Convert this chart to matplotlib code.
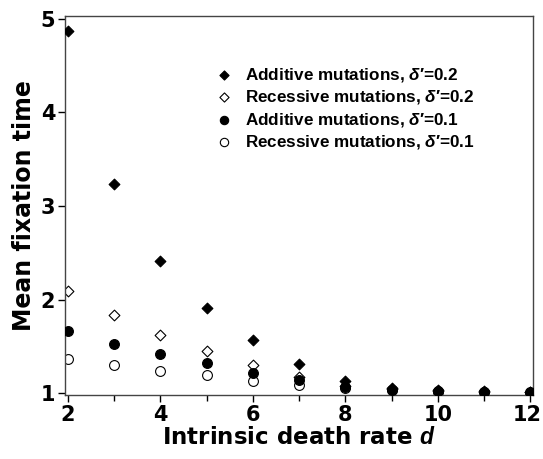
import matplotlib
matplotlib.use("Agg")
import matplotlib.pyplot as plt
import matplotlib.transforms as mtransforms

d = [2, 3, 4, 5, 6, 7, 8, 9, 10, 11, 12]
add_02 = [4.87, 3.23, 2.41, 1.91, 1.57, 1.31, 1.13, 1.05, 1.03, 1.02, 1.01]
rec_02 = [2.09, 1.83, 1.62, 1.45, 1.30, 1.17, 1.08, 1.04, 1.02, 1.01, 1.01]
add_01 = [1.66, 1.53, 1.42, 1.32, 1.22, 1.14, 1.07, 1.03, 1.02, 1.01, 1.01]
rec_01 = [1.36, 1.30, 1.24, 1.19, 1.13, 1.09, 1.05, 1.03, 1.01, 1.01, 1.00]
labels = [r"Additive mutations, $\mathbfit{\delta}$′=0.2",
          r"Recessive mutations, $\mathbfit{\delta}$′=0.2",
          r"Additive mutations, $\mathbfit{\delta}$′=0.1",
          r"Recessive mutations, $\mathbfit{\delta}$′=0.1"]
xticks = [2, 4, 6, 8, 10, 12]
yticks = [1, 2, 3, 4, 5]

plt.rcParams['mathtext.fontset'] = 'custom'
plt.rcParams['mathtext.bfit'] = 'Liberation Sans:bold:italic'
plt.rcParams['mathtext.rm'] = 'Liberation Sans:bold'

fig = plt.figure(figsize=(5.43, 4.59), dpi=100)
ax = fig.add_axes([65/543, 1-395/459, (533-65)/543, (395-16)/459])

ax.scatter(d, add_02, marker='D', s=30, facecolor='black', edgecolor='black', linewidth=0.8, zorder=3, label=labels[0])
ax.scatter(d, rec_02, marker='D', s=30, facecolor='white', edgecolor='black', linewidth=0.8, zorder=2, label=labels[1])
ax.scatter(d, add_01, marker='o', s=50, facecolor='black', edgecolor='black', linewidth=0.8, zorder=4, label=labels[2])
ax.scatter(d, rec_01, marker='o', s=50, facecolor='white', edgecolor='black', linewidth=0.8, zorder=1, label=labels[3])

ax.set_xlim(1.935, 12.06)
ax.set_ylim(0.98, 5.03)
ax.set_xticks(xticks)
ax.set_xticks([3, 5, 7, 9, 11], minor=True)
ax.set_yticks(yticks)
ax.tick_params(axis='both', which='major', direction='out', length=5, width=1, labelsize=15, pad=2)
ax.tick_params(axis='x', which='minor', direction='out', length=4, width=1)
for lab in ax.get_xticklabels() + ax.get_yticklabels():
    lab.set_fontweight('bold')
    lab.set_family('DejaVu Sans')
last = ax.get_xticklabels()[-1]
last.set_transform(last.get_transform() + mtransforms.ScaledTranslation(-3/100, 0, fig.dpi_scale_trans))
for sp in ax.spines.values():
    sp.set_linewidth(1.0)
    sp.set_color('#444444')

ax.set_xlabel(r"Intrinsic death rate $\mathbfit{d}$", fontsize=16.5, fontweight='bold', family='DejaVu Sans', labelpad=1)
ax.set_ylabel("Mean fixation time", fontsize=17, fontweight='bold', family='DejaVu Sans', labelpad=3)

leg = ax.legend(loc='upper left', bbox_to_anchor=(0.306, 0.886), frameon=False,
                prop={'family': 'Liberation Sans', 'weight': 'bold', 'size': 12.3},
                handletextpad=0.75, labelspacing=0.25, borderaxespad=0, handlelength=1.0,
                scatterpoints=1, markerscale=0.85)

fig.savefig("out.png", dpi=100)
